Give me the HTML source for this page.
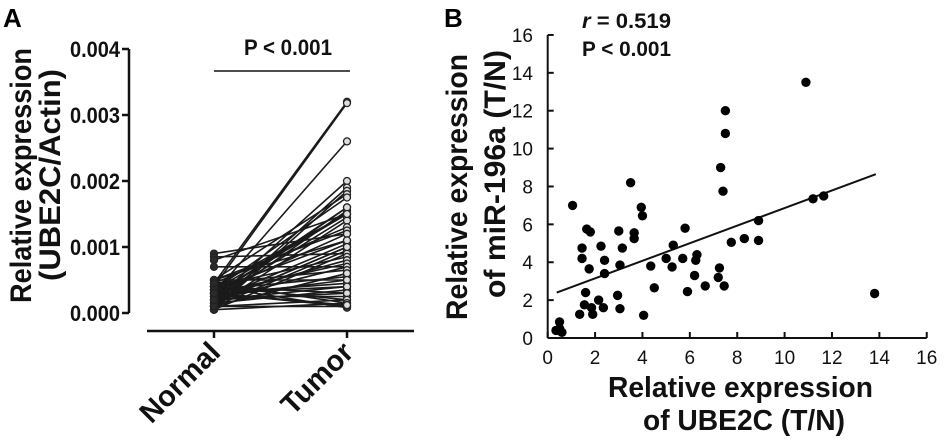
<!DOCTYPE html>
<html><head><meta charset="utf-8"><style>
html,body{margin:0;padding:0;background:#fff;}
svg{display:block;font-family:"Liberation Sans",Arial,sans-serif;}
</style></head><body>
<svg id="fig" width="945" height="442" viewBox="0 0 945 442">
<g id="pa"></g>
<g id="pb"></g>
</svg>
<script>
const NS="http://www.w3.org/2000/svg";
function mk(p,t,a,txt){const e=document.createElementNS(NS,t);for(const k in a)e.setAttribute(k,a[k]);if(txt!=null)e.textContent=txt;p.appendChild(e);return e;}

// Panel A data
const aCategories=["Normal","Tumor"];
const aTicks=[0,0.001,0.002,0.003,0.004];
const aTickLabels=["0.000","0.001","0.002","0.003","0.004"];
const normalVals=[0.00045,0.0004,0.0009,0.00085,0.0008,0.0007,0.0003,0.0002,0.0001,0.00005,0.0005,0.00035,0.00025,0.00015,0.0004,0.0003,0.0002,0.0001,0.00045,0.0005,0.0003,0.00035,0.0002,0.00015,0.0001,0.00005,0.0004,0.00025,0.0003,0.0002,0.00045,0.0001,0.00035,0.0005,0.0003,0.0002,0.00015,0.0004,0.00025,0.0001,0.00005,0.0003,0.0004,0.0002,0.00035,0.0005,0.00015,0.0001,0.00025,0.0003,0.0002,0.0004,0.00045,0.0001,0.0003];
const tumorVals=[0.0032,0.00318,0.0012,0.0009,0.0015,0.0007,0.0026,0.002,0.0019,0.00185,0.0018,0.00175,0.0016,0.00155,0.0015,0.0015,0.00145,0.0014,0.0013,0.00125,0.0012,0.0011,0.00105,0.001,0.00095,0.0009,0.00085,0.0008,0.00075,0.0007,0.00065,0.0006,0.00055,0.0005,0.00045,0.0004,0.00035,0.0003,0.00025,0.0002,0.00015,0.0001,0.00008,0.0016,0.0015,0.0011,0.001,0.0006,0.0005,0.0004,0.0003,0.0002,0.00015,0.0001,0.00012];

// Panel B data
const bXTicks=[0,2,4,6,8,10,12,14,16];
const bYTicks=[0,2,4,6,8,10,12,14,16];
const ube2cX=[10.9,7.5,7.5,7.3,7.4,3.5,1.05,3.95,4.0,1.65,1.8,3.0,3.65,3.65,5.8,8.9,11.2,11.65,7.75,8.3,8.9,5.3,2.25,1.45,3.15,1.45,2.4,5.0,5.7,6.3,6.25,3.05,4.35,5.25,1.75,7.25,2.4,6.2,7.2,4.5,6.65,7.45,5.9,1.6,2.95,2.15,13.8,1.55,1.85,2.35,3.05,1.35,1.9,4.05,0.5,0.5,0.35,0.6];
const mir196Y=[13.5,12.0,10.8,9.0,7.75,8.2,7.0,6.9,6.45,5.75,5.6,5.65,5.55,5.25,5.8,6.2,7.35,7.5,5.05,5.25,5.15,4.9,4.85,4.75,4.75,4.2,4.1,4.2,4.2,4.4,4.1,3.85,3.8,3.75,3.65,3.7,3.4,3.3,3.2,2.65,2.75,2.75,2.45,2.4,2.25,2.0,2.35,1.75,1.6,1.6,1.55,1.25,1.25,1.2,0.85,0.5,0.4,0.3];
const fitRange=[0.38,13.85];
const fitCoef=[2.22,0.464]; // intercept, slope

// ---- Panel A ----
const A=document.getElementById('pa');
const ay=v=>313-v/0.001*66;
const ax=i=>[214,347][i];
mk(A,'text',{x:3,y:27,'font-size':26,'font-weight':'bold',},'A');
mk(A,'line',{x1:129,y1:ay(0.004),x2:129,y2:ay(0),stroke:'#111','stroke-width':2.5,});
aTicks.forEach((t,i)=>{
 mk(A,'line',{x1:122,x2:129,y1:ay(t),y2:ay(t),stroke:'#111','stroke-width':2.5,});
 mk(A,'text',{x:70,y:ay(t)+8,'font-size':22,'font-weight':'bold',fill:'#111',textLength:50,lengthAdjust:'spacingAndGlyphs',},aTickLabels[i]);
});
mk(A,'line',{x1:147,x2:414,y1:331,y2:331,stroke:'#111','stroke-width':2.5,});
aCategories.forEach((c,i)=>{
 mk(A,'line',{x1:ax(i),x2:ax(i),y1:331,y2:338,stroke:'#111','stroke-width':2.5,});
 mk(A,'text',{x:ax(i)+8,y:354,'text-anchor':'end','font-size':29,'font-weight':'bold',fill:'#111',transform:`rotate(-45 ${ax(i)+8} 354)`,},c);
});
const yl=mk(A,'text',{transform:'rotate(-90) translate(-303 0)','font-size':30,'font-weight':'bold',fill:'#111',});
mk(yl,'tspan',{x:0,y:31,textLength:255,lengthAdjust:'spacingAndGlyphs'},'Relative expression');
mk(yl,'tspan',{x:22,y:60,textLength:212,lengthAdjust:'spacingAndGlyphs'},'(UBE2C/Actin)');
const n=Math.min(normalVals.length,tumorVals.length);
const lg=mk(A,'g',{});
for(let i=0;i<n;i++){
 const l=mk(lg,'line',{x1:ax(0),y1:ay(normalVals[i]),x2:ax(1),y2:ay(tumorVals[i]),stroke:'#1a1a1a','stroke-width':1.6});
 
 
}
for(let i=0;i<n;i++){
 [normalVals[i],tumorVals[i]].forEach((v,j)=>{
  const c=mk(lg,'circle',{cx:ax(j),cy:ay(v),r:3.5,fill:j?'#ddd':'#2a2a2a',stroke:'#222','stroke-width':1.3});
  
  
 });
}
mk(A,'line',{x1:214,x2:350,y1:71,y2:71,stroke:'#111','stroke-width':1.5,});
mk(A,'text',{x:244,y:55,'font-size':22,'font-weight':'bold',fill:'#111',textLength:88,lengthAdjust:'spacingAndGlyphs',},'P < 0.001');

// ---- Panel B ----
const B=document.getElementById('pb');
const bx=v=>547.7+v*23.69;
const by=v=>338-v*18.94;
mk(B,'text',{x:444,y:27,'font-size':26,'font-weight':'bold',},'B');
mk(B,'line',{x1:bx(0),x2:bx(0),y1:by(16),y2:by(0),stroke:'#111','stroke-width':2,});
mk(B,'line',{x1:bx(0),x2:bx(16),y1:by(0),y2:by(0),stroke:'#111','stroke-width':2,});
bYTicks.forEach(t=>{
 mk(B,'line',{x1:bx(0),x2:bx(0)+6,y1:by(t),y2:by(t),stroke:'#111','stroke-width':2,});
 mk(B,'text',{x:533,y:by(t)+7,'text-anchor':'end','font-size':19,fill:'#111',},t);
});
bXTicks.forEach(t=>{
 mk(B,'line',{x1:bx(t),x2:bx(t),y1:by(0),y2:by(0)-6,stroke:'#111','stroke-width':2,});
 mk(B,'text',{x:bx(t),y:364,'text-anchor':'middle','font-size':19,fill:'#111',},t);
});
mk(B,'text',{x:608,y:397,'font-size':29,'font-weight':'bold',fill:'#111',textLength:265,lengthAdjust:'spacingAndGlyphs',},'Relative expression');
mk(B,'text',{x:643,y:430,'font-size':29,'font-weight':'bold',fill:'#111',textLength:202,lengthAdjust:'spacingAndGlyphs',},'of UBE2C (T/N)');
const yb=mk(B,'text',{transform:'rotate(-90) translate(-320 0)','font-size':30,'font-weight':'bold',fill:'#111',});
mk(yb,'tspan',{x:0,y:467,textLength:266,lengthAdjust:'spacingAndGlyphs'},'Relative expression');
mk(yb,'tspan',{x:22,y:505,textLength:248,lengthAdjust:'spacingAndGlyphs'},'of miR-196a (T/N)');
mk(B,'line',{x1:bx(fitRange[0]),y1:by(fitCoef[0]+fitCoef[1]*fitRange[0]),x2:bx(fitRange[1]),y2:by(fitCoef[0]+fitCoef[1]*fitRange[1]),stroke:'#111','stroke-width':2,});
const pg=mk(B,'g',{});
for(let i=0;i<Math.min(ube2cX.length,mir196Y.length);i++){
 const c=mk(pg,'circle',{cx:bx(ube2cX[i]),cy:by(mir196Y[i]),r:4.7,fill:'#000'});
 
 
}
const rt=mk(B,'text',{x:582,y:28,'font-size':21,'font-weight':'bold',fill:'#111',textLength:89,lengthAdjust:'spacingAndGlyphs',});
mk(rt,'tspan',{'font-style':'italic'},'r');
mk(rt,'tspan',{},' = 0.519');
mk(B,'text',{x:582,y:56,'font-size':21,'font-weight':'bold',fill:'#111',textLength:89,lengthAdjust:'spacingAndGlyphs',},'P < 0.001');
</script>
</body></html>
